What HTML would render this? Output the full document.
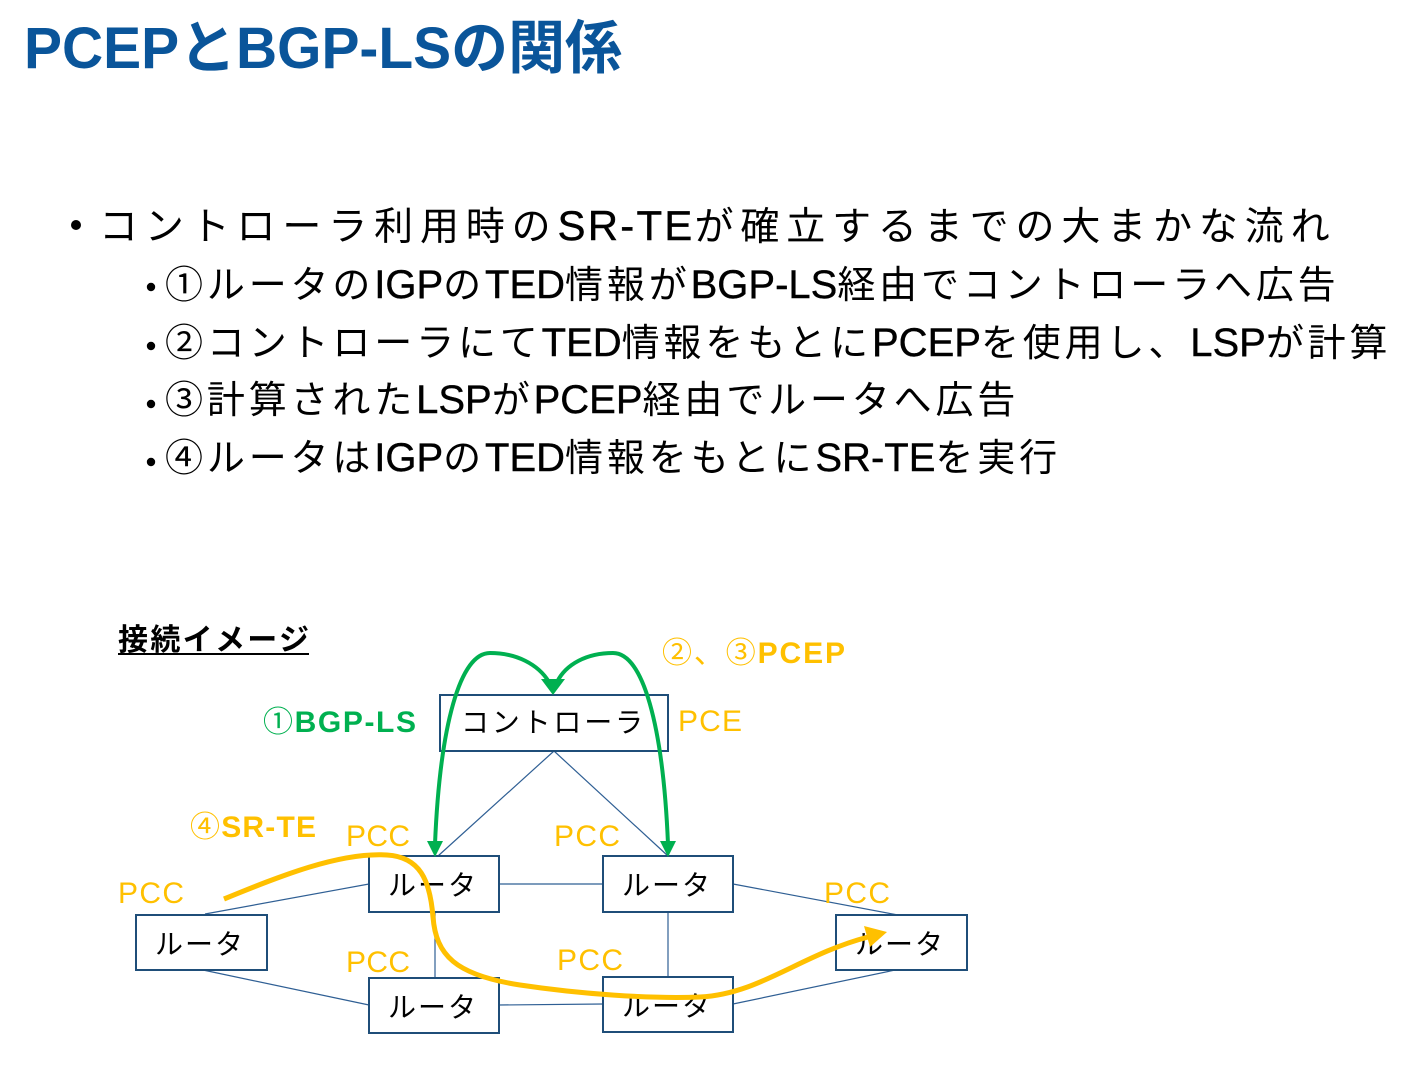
<!DOCTYPE html>
<html>
<head>
<meta charset="utf-8">
<style>
  html,body{margin:0;padding:0;background:#fff;}
  svg{display:block;}
  text{font-family:"Liberation Sans","Noto Sans CJK JP",sans-serif;}
  .mj{font-size:39px;letter-spacing:6.85px;}
  .ml{font-size:42px;letter-spacing:2.2px;stroke:#000;stroke-width:0.4px;}
  .sj{font-size:38px;letter-spacing:3.85px;}
  .sl{font-size:40px;letter-spacing:0px;stroke:#000;stroke-width:0.4px;}
</style>
</head>
<body>
<svg width="1411" height="1084" viewBox="0 0 1411 1084" xmlns="http://www.w3.org/2000/svg">
  <rect width="1411" height="1084" fill="#fff"/>

  <!-- Title -->
  <text x="24" y="68" font-size="58" font-weight="bold" fill="#0A559A" textLength="598" lengthAdjust="spacingAndGlyphs">PCEPとBGP-LSの関係</text>

  <!-- Bullets -->
  <circle cx="76" cy="225" r="5" fill="#000"/>
  <text x="99" y="240" fill="#000"><tspan class="mj">コントローラ利用時の</tspan><tspan class="ml">SR-TE</tspan><tspan class="mj">が確立するまでの大まかな流れ</tspan></text>

  <circle cx="151" cy="287" r="4.2" fill="#000"/>
  <text x="165" y="298" fill="#000"><tspan class="sj">①ルータの</tspan><tspan class="sl">IGP</tspan><tspan class="sj">の</tspan><tspan class="sl">TED</tspan><tspan class="sj">情報が</tspan><tspan class="sl">BGP-LS</tspan><tspan class="sj">経由でコントローラへ広告</tspan></text>

  <circle cx="151" cy="346" r="4.2" fill="#000"/>
  <text x="165" y="356" fill="#000"><tspan class="sj">②コントローラにて</tspan><tspan class="sl">TED</tspan><tspan class="sj">情報をもとに</tspan><tspan class="sl">PCEP</tspan><tspan class="sj">を使用し、</tspan><tspan class="sl">LSP</tspan><tspan class="sj">が計算</tspan></text>

  <circle cx="151" cy="404" r="4.2" fill="#000"/>
  <text x="165" y="413" fill="#000"><tspan class="sj">③計算された</tspan><tspan class="sl">LSP</tspan><tspan class="sj">が</tspan><tspan class="sl">PCEP</tspan><tspan class="sj">経由でルータへ広告</tspan></text>

  <circle cx="151" cy="462" r="4.2" fill="#000"/>
  <text x="165" y="471" fill="#000"><tspan class="sj">④ルータは</tspan><tspan class="sl">IGP</tspan><tspan class="sj">の</tspan><tspan class="sl">TED</tspan><tspan class="sj">情報をもとに</tspan><tspan class="sl">SR-TE</tspan><tspan class="sj">を実行</tspan></text>

  <!-- Diagram heading -->
  <text x="118" y="650" font-size="30" font-weight="bold" fill="#000" textLength="191" lengthAdjust="spacing">接続イメージ</text>
  <line x1="118" y1="654" x2="309" y2="654" stroke="#000" stroke-width="2"/>

  <!-- Thin connection lines -->
  <g stroke="#2F5F94" stroke-width="1.2" fill="none">
    <line x1="554" y1="751" x2="438" y2="856"/>
    <line x1="554" y1="751" x2="668" y2="856"/>
    <line x1="205" y1="914" x2="369" y2="884"/>
    <line x1="203" y1="970" x2="369" y2="1005"/>
    <line x1="499" y1="884" x2="603" y2="884"/>
    <line x1="435" y1="912" x2="435" y2="978"/>
    <line x1="499" y1="1005" x2="603" y2="1004"/>
    <line x1="668" y1="912" x2="668" y2="977"/>
    <line x1="733" y1="884" x2="898" y2="915"/>
    <line x1="733" y1="1004" x2="900" y2="969"/>
  </g>

  <!-- Boxes -->
  <g stroke="#1F4E79" stroke-width="2" fill="#fff">
    <rect x="440" y="695" width="228" height="56"/>
    <rect x="369" y="856" width="130" height="56"/>
    <rect x="603" y="856" width="130" height="56"/>
    <rect x="136" y="915" width="131" height="55"/>
    <rect x="836" y="915" width="131" height="55"/>
    <rect x="369" y="978" width="130" height="55"/>
    <rect x="603" y="977" width="130" height="55"/>
  </g>

  <!-- Box labels -->
  <g font-size="28" fill="#000">
    <text x="461" y="732" textLength="182" lengthAdjust="spacing">コントローラ</text>
    <text x="388" y="895" textLength="88" lengthAdjust="spacing">ルータ</text>
    <text x="622" y="895" textLength="88" lengthAdjust="spacing">ルータ</text>
    <text x="155" y="954" textLength="88" lengthAdjust="spacing">ルータ</text>
    <text x="855" y="954" textLength="88" lengthAdjust="spacing">ルータ</text>
    <text x="388" y="1017" textLength="88" lengthAdjust="spacing">ルータ</text>
    <text x="622" y="1016" textLength="88" lengthAdjust="spacing">ルータ</text>
  </g>

  <!-- Orange / green labels -->
  <g font-size="30">
    <text x="662" y="663" fill="#FFC000" textLength="183" lengthAdjust="spacing">②、③<tspan font-weight="bold">PCEP</tspan></text>
    <text x="263" y="732" fill="#00B050" textLength="153" lengthAdjust="spacing">①<tspan font-weight="bold">BGP-LS</tspan></text>
    <text x="190" y="837" fill="#FFC000" textLength="126" lengthAdjust="spacing">④<tspan font-weight="bold">SR-TE</tspan></text>
    <text x="678" y="731" fill="#FFC000" textLength="64" lengthAdjust="spacing">PCE</text>
    <text x="346" y="846" fill="#FFC000" textLength="64" lengthAdjust="spacing">PCC</text>
    <text x="554" y="846" fill="#FFC000" textLength="66" lengthAdjust="spacing">PCC</text>
    <text x="118" y="903" fill="#FFC000" textLength="66" lengthAdjust="spacing">PCC</text>
    <text x="824" y="903" fill="#FFC000" textLength="66" lengthAdjust="spacing">PCC</text>
    <text x="346" y="972" fill="#FFC000" textLength="64" lengthAdjust="spacing">PCC</text>
    <text x="557" y="970" fill="#FFC000" textLength="66" lengthAdjust="spacing">PCC</text>
  </g>

  <!-- Green arrows -->
  <g stroke="#00B050" stroke-width="4" fill="none" stroke-linecap="round">
    <path d="M435,844 C440,725 460,653 490,653 C516,653 538,664 549,682"/>
    <path d="M668,844 C663,725 643,653 613,653 C587,653 566,664 557,682"/>
  </g>
  <g fill="#00B050">
    <polygon points="541,679 565,679 553,695"/>
    <polygon points="427,841 443,841 435,857"/>
    <polygon points="660,841 676,841 668,857"/>
  </g>

  <!-- Orange SR-TE path -->
  <path d="M224,899 C280,876 340,852 387,855 C420,857 430,880 433,917 C436,955 455,975 520,985 C580,994 650,999 700,997 C760,994 800,955 868,937"
        stroke="#FFC000" stroke-width="5" fill="none" stroke-linecap="butt"/>
  <polygon points="887,932 870,947 864,926" fill="#FFC000"/>
</svg>
</body>
</html>
